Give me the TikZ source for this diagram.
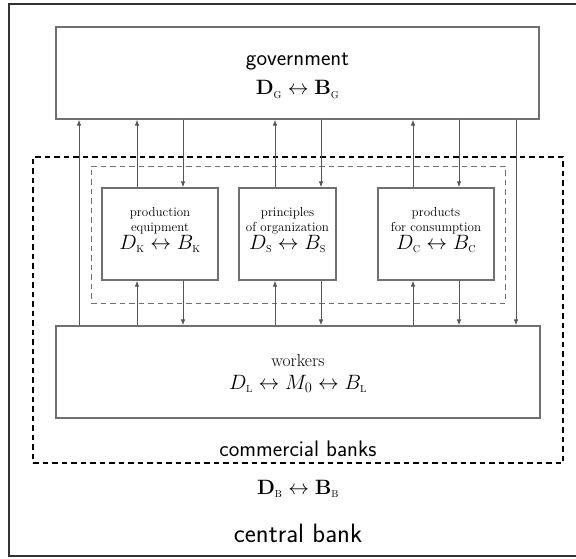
\documentclass[tikz,border=0pt]{standalone}
\usepackage{amsmath}
\usetikzlibrary{arrows.meta}
\definecolor{boxgray}{HTML}{707070}
\definecolor{linegray}{HTML}{555555}
\definecolor{framegray}{HTML}{333333}
\tikzset{
  box/.style={draw=boxgray, line width=1.2pt, rectangle, inner sep=0pt},
  arr/.style={draw=linegray, line width=0.9pt, -{Latex[length=6pt,width=4.5pt]}},
  txt/.style={inner sep=0pt, anchor=base},
  sflabel/.style={txt, font=\sffamily\fontsize{22.5}{26}\selectfont},
  mathlabel/.style={txt, font=\fontsize{19.7}{23}\selectfont},
  smalltext/.style={txt, font=\fontsize{13}{16}\selectfont},
}
\newcommand{\sub}[1]{_{\scriptscriptstyle\mathrm{#1}}}
\begin{document}
\begin{tikzpicture}[x=1pt,y=-1pt]
\useasboundingbox (0,0) rectangle (576,559);
\draw[framegray, line width=1.5pt] (9,4) rectangle (579,556);
\node[draw, dash pattern=on 5.5pt off 4pt, line width=1.3pt, minimum width=530pt, minimum height=306pt, inner sep=0pt] (cb) at (298,310) {};
\node[draw=boxgray, dash pattern=on 5.5pt off 4pt, line width=0.9pt, minimum width=414pt, minimum height=137pt, inner sep=0pt] (firms) at (298,234.5) {};
\node[box, minimum width=483pt, minimum height=92pt] (gov) at (297.5,73) {};
\node[box, minimum width=116pt, minimum height=92pt] (k) at (160,234) {};
\node[box, minimum width=97pt, minimum height=92pt] (s) at (287.5,234) {};
\node[box, minimum width=116pt, minimum height=92pt] (c) at (436,234) {};
\node[box, minimum width=484pt, minimum height=92pt] (w) at (298,372) {};
% texts
\node[sflabel] (govt) at (297.5,66) {government};
\node[mathlabel] (govm) at (297.5,95) {$\mathbf{D}\sub{G}\leftrightarrow\mathbf{B}\sub{G}$};
\node[smalltext] (k1) at (160,216) {production};
\node[smalltext] (k2) at (160,232) {equipment};
\node[mathlabel] (km) at (160,249) {$D\sub{K}\leftrightarrow B\sub{K}$};
\node[smalltext] (s1) at (287.5,216) {principles};
\node[smalltext] (s2) at (287.5,232) {of organization};
\node[mathlabel] (sm) at (287.5,249) {$D\sub{S}\leftrightarrow B\sub{S}$};
\node[smalltext] (c1) at (436,216) {products};
\node[smalltext] (c2) at (436,232) {for consumption};
\node[mathlabel] (cm) at (436,249) {$D\sub{C}\leftrightarrow B\sub{C}$};
\node[txt, font=\fontsize{17.5}{21}\selectfont] (wt) at (298,366.5) {workers};
\node[mathlabel] (wm) at (298,389) {$D\sub{L}\leftrightarrow M_0\leftrightarrow B\sub{L}$};
\node[sflabel] (cbl) at (298,456.5) {commercial banks};
\node[mathlabel] (cbm) at (298,494) {$\mathbf{D}\sub{B}\leftrightarrow\mathbf{B}\sub{B}$};
\node[txt, font=\sffamily\fontsize{26.5}{30}\selectfont] (cen) at (298,542.5) {central bank};
% connectors
\draw[arr] (w.north -| 79,0) -- (gov.south -| 79,0);
\draw[arr] (k.north -| 137,0) -- (gov.south -| 137,0);
\draw[arr] (w.north -| 137,0) -- (k.south -| 137,0);
\draw[arr] (gov.south -| 183,0) -- (k.north -| 183,0);
\draw[arr] (k.south -| 183,0) -- (w.north -| 183,0);
\draw[arr] (s.north -| 275,0) -- (gov.south -| 275,0);
\draw[arr] (w.north -| 275,0) -- (s.south -| 275,0);
\draw[arr] (gov.south -| 321,0) -- (s.north -| 321,0);
\draw[arr] (s.south -| 321,0) -- (w.north -| 321,0);
\draw[arr] (c.north -| 413,0) -- (gov.south -| 413,0);
\draw[arr] (w.north -| 413,0) -- (c.south -| 413,0);
\draw[arr] (gov.south -| 459,0) -- (c.north -| 459,0);
\draw[arr] (c.south -| 459,0) -- (w.north -| 459,0);
\draw[arr] (gov.south -| 516,0) -- (w.north -| 516,0);
\end{tikzpicture}
\end{document}
